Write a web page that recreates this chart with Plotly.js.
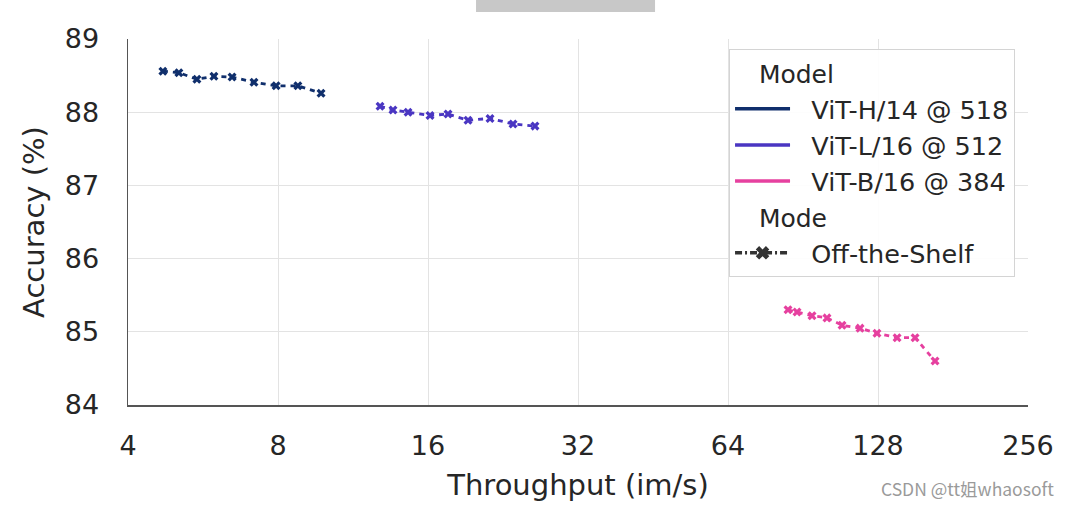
<!DOCTYPE html>
<html>
<head>
<meta charset="utf-8">
<script src="https://cdn.plot.ly/plotly-3.0.1.min.js"></script>
<style>html,body{margin:0;padding:0;background:#fff;}#chart{width:1073px;height:507px;}</style>
</head>
<body>
<div id="chart"></div>
<script>
// Data
const modelNames = ["ViT-H/14 @ 518", "ViT-L/16 @ 512", "ViT-B/16 @ 384"];
const modeName = "Off-the-Shelf";
const hThroughput = [4.70, 5.06, 5.50, 5.95, 6.47, 7.16, 7.93, 8.77, 9.76];
const hAccuracy   = [88.56, 88.54, 88.45, 88.49, 88.48, 88.41, 88.36, 88.36, 88.26];
const lThroughput = [12.82, 13.61, 14.59, 16.15, 17.55, 19.25, 21.31, 23.70, 26.23];
const lAccuracy   = [88.08, 88.03, 88.00, 87.955, 87.975, 87.89, 87.915, 87.84, 87.81];
const bThroughput = [84.45, 88.04, 94.36, 101.1, 108.4, 117.8, 127.4, 139.8, 151.9, 166.6];
const bAccuracy   = [85.30, 85.27, 85.22, 85.19, 85.09, 85.05, 84.98, 84.92, 84.92, 84.60];
const xTickVals = [4, 8, 16, 32, 64, 128, 256];
const xTickText = ["4", "8", "16", "32", "64", "128", "256"];
const yTickVals = [84, 85, 86, 87, 88, 89];

const colors = ["#102f6c", "#4a36c2", "#e6409f"];
const seriesX = [hThroughput, lThroughput, bThroughput];
const seriesY = [hAccuracy, lAccuracy, bAccuracy];
const FONT = "DejaVu Sans, sans-serif";
const NB = "\u00a0\u00a0\u00a0";
const GAP = "\u00a0\u00a0";

const traces = [];
for (let i = 0; i < 3; i++) {
  traces.push({
    x: seriesX[i], y: seriesY[i], type: "scatter", mode: "lines+markers",
    line: {color: colors[i], width: 2.8, dash: "5px,5px"},
    marker: {symbol: "x", size: 8, color: colors[i]},
    showlegend: false, hoverinfo: "skip"
  });
}
// legend-only entries
for (let i = 0; i < 3; i++) {
  traces.push({
    x: [null], y: [null], type: "scatter", mode: "lines",
    name: GAP + modelNames[i], line: {color: colors[i], width: 3.5},
    legendgroup: "model", legendgrouptitle: {text: NB + "Model", font: {size: 25, color: "#262626"}},
    showlegend: true
  });
}
traces.push({
  x: [null], y: [null], type: "scatter", mode: "lines+markers",
  name: GAP + modeName, line: {color: "#333333", width: 3.5, dash: "7px,3px,2px,3px"},
  marker: {symbol: "x", size: 12, color: "#333333"},
  legendgroup: "mode", legendgrouptitle: {text: NB + "Mode", font: {size: 25, color: "#262626"}},
  showlegend: true
});

const layout = {
  width: 1073, height: 507,
  margin: {l: 128, r: 45, t: 39, b: 102},
  paper_bgcolor: "#ffffff", plot_bgcolor: "#ffffff",
  font: {family: FONT, color: "#262626", size: 25},
  xaxis: {
    type: "log", range: [Math.log10(4), Math.log10(256)],
    tickvals: xTickVals, ticktext: xTickText,
    tickfont: {size: 27, color: "#262626"},
    showgrid: true, gridcolor: "#e3e3e3", gridwidth: 1,
    showline: true, linecolor: "#555555", linewidth: 1.5, mirror: false,
    zeroline: false, ticks: "outside", ticklen: 16, tickcolor: "rgba(0,0,0,0)",
    title: {text: "Throughput (im/s)", font: {size: 29, color: "#262626"}, standoff: 15}
  },
  yaxis: {
    range: [84, 89], tickvals: yTickVals,
    tickfont: {size: 27, color: "#262626"},
    showgrid: true, gridcolor: "#e3e3e3", gridwidth: 1,
    showline: true, linecolor: "#555555", linewidth: 1.5,
    zeroline: false, ticks: "outside", ticklen: 22, tickcolor: "rgba(0,0,0,0)",
    title: {text: "Accuracy (%)", font: {size: 29, color: "#262626"}, standoff: 11}
  },
  legend: {
    x: 0.9856, y: 0.972, xanchor: "right", yanchor: "top",
    bgcolor: "rgba(255,255,255,0.9)", bordercolor: "#d4d4d4", borderwidth: 1,
    font: {size: 25.5, color: "#262626"}, traceorder: "grouped", tracegroupgap: 0,
    itemwidth: 55
  },
  shapes: [{
    type: "rect", xref: "paper", yref: "paper",
    x0: 0.3867, x1: 0.5856, y0: 1.0738, y1: 1.107,
    fillcolor: "#c8c8c8", line: {width: 0}
  }],
  annotations: [{
    text: "CSDN @tt姐whaosoft", xref: "paper", yref: "paper",
    x: 0.9333, y: -0.227, xanchor: "center", yanchor: "middle", showarrow: false,
    font: {family: "Noto Sans CJK SC, sans-serif", size: 17.5, color: "#9a9a9a"}
  }]
};

Plotly.newPlot("chart", traces, layout, {displayModeBar: false, staticPlot: true});
</script>
</body>
</html>
